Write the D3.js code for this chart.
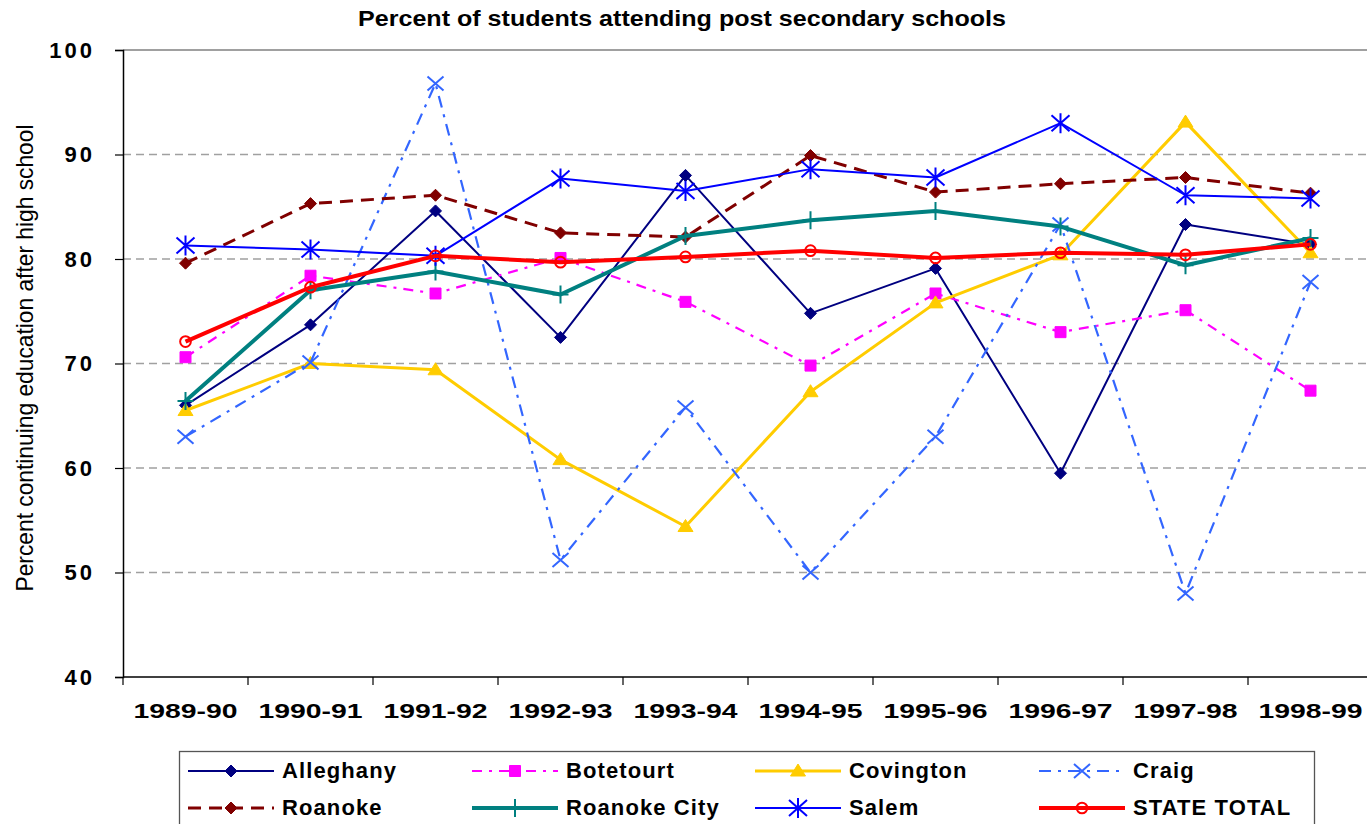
<!DOCTYPE html>
<html>
<head>
<meta charset="utf-8">
<script src="https://cdn.jsdelivr.net/npm/d3@7"></script>
<style>
  html, body { margin: 0; padding: 0; background: #fff; }
  svg { display: block; font-family: "Liberation Sans", Arial, sans-serif; }
</style>
</head>
<body>
<svg id="chart" width="1367" height="824"></svg>
<script>
// school years on the x axis
const years = ["1989-90", "1990-91", "1991-92", "1992-93", "1993-94",
    "1994-95", "1995-96", "1996-97", "1997-98", "1998-99"];
const yTicks = [40, 50, 60, 70, 80, 90, 100];

// values
const alleghany   = [66.0, 73.7, 84.6, 72.5, 88.0, 74.8, 79.1, 59.5, 83.3, 81.4];
const botetourt   = [70.6, 78.4, 76.7, 80.1, 75.9, 69.8, 76.7, 73.0, 75.1, 67.4];
const covington   = [65.5, 70.0, 69.4, 60.8, 54.4, 67.3, 75.8, 80.4, 93.1, 80.6];
const craig       = [63.0, 70.1, 96.8, 51.2, 65.8, 50.0, 63.0, 83.3, 48.0, 77.8];
const roanoke     = [79.6, 85.3, 86.1, 82.5, 82.1, 89.9, 86.4, 87.2, 87.8, 86.3];
const roanokeCity = [66.4, 77.0, 78.8, 76.6, 82.2, 83.7, 84.6, 83.1, 79.4, 82.0];
const salem       = [81.3, 80.9, 80.3, 87.7, 86.5, 88.6, 87.8, 93.0, 86.1, 85.8];
const stateTotal  = [72.1, 77.3, 80.3, 79.7, 80.2, 80.8, 80.1, 80.6, 80.4, 81.4];

const seriesNames = ["Alleghany", "Botetourt", "Covington", "Craig",
    "Roanoke", "Roanoke City", "Salem", "STATE TOTAL"];
const seriesValues = [alleghany, botetourt, covington, craig,
    roanoke, roanokeCity, salem, stateTotal];

// look of each series (same order as names)
const styles = [
    { color: "#000080", width: 2,   dash: null,          marker: "diamond" },
    { color: "#FF00FF", width: 2.2, dash: "10,7,3,7",    marker: "square" },
    { color: "#FFCC00", width: 3,   dash: null,          marker: "triangle" },
    { color: "#3366FF", width: 2.2, dash: "12,7,3,7",    marker: "x" },
    { color: "#800000", width: 3,   dash: "13,8",        marker: "diamond" },
    { color: "#008080", width: 4,   dash: null,          marker: "plus" },
    { color: "#0000FF", width: 2,   dash: null,          marker: "star" },
    { color: "#FF0000", width: 4,   dash: null,          marker: "circle" },
];

const markerPaths = {
    diamond: "M0,-6L6,0L0,6L-6,0Z",
    square: "M-5.5,-5.5H5.5V5.5H-5.5Z",
    triangle: "M0,-7L7.5,5L-7.5,5Z",
    x: "M-8,-7L8,7M-8,7L8,-7",
    plus: "M-8,0H8M0,-9V9",
    star: "M-9,-8L9,8M-9,8L9,-8M0,-10V10",
    circle: d3.symbol().type(d3.symbolCircle).size(90)(),
};
const filledMarker = { diamond: true, square: true, triangle: true };

const svg = d3.select("#chart");

const plot = { left: 123, top: 50, right: 1373, bottom: 677 };

const x = d3.scaleBand().domain(years).range([plot.left, plot.right]).padding(0);
const xc = (d) => x(d) + x.bandwidth() / 2;
const y = d3.scaleLinear().domain([40, 100]).range([plot.bottom, plot.top]);

// gridlines
svg.append("g")
    .selectAll("line")
    .data(yTicks.filter((t) => t > 40))
    .join("line")
    .attr("x1", plot.left)
    .attr("x2", 1367)
    .attr("y1", (d) => y(d))
    .attr("y2", (d) => y(d))
    .attr("stroke", (d) => (d === 100 ? "#808080" : "#a0a0a0"))
    .attr("stroke-width", (d) => (d === 100 ? 1.5 : 1.3))
    .attr("stroke-dasharray", (d) => (d === 100 ? null : "8,5"));

// y axis
const yAxis = svg.append("g")
    .attr("transform", `translate(${plot.left},0)`)
    .call(d3.axisLeft(y).tickValues(yTicks).tickSize(8).tickPadding(20));
yAxis.select(".domain").attr("stroke", "#000").attr("stroke-width", 1.5);
yAxis.selectAll(".tick line").attr("stroke", "#000").attr("stroke-width", 1.2);
yAxis.selectAll(".tick text")
    .attr("font-size", 22)
    .attr("font-weight", "bold")
    .attr("fill", "#000")
    .attr("letter-spacing", 3)
    .attr("font-family", "Liberation Sans, Arial, sans-serif");

// x axis
svg.append("line")
    .attr("x1", plot.left).attr("x2", 1367)
    .attr("y1", plot.bottom).attr("y2", plot.bottom)
    .attr("stroke", "#000").attr("stroke-width", 1.5);
svg.append("g")
    .selectAll("line")
    .data(years)
    .join("line")
    .attr("x1", (d) => x(d))
    .attr("x2", (d) => x(d))
    .attr("y1", plot.bottom)
    .attr("y2", plot.bottom + 8)
    .attr("stroke", "#000")
    .attr("stroke-width", 1.2);
const xAxis = svg.append("g")
    .attr("transform", `translate(0,${plot.bottom})`)
    .call(d3.axisBottom(x).tickSize(0).tickPadding(26));
xAxis.select(".domain").remove();
xAxis.selectAll(".tick text")
    .attr("font-size", 21)
    .attr("font-weight", "bold")
    .attr("fill", "#000")
    .attr("font-family", "Liberation Sans, Arial, sans-serif")
    .attr("textLength", 104)
    .attr("lengthAdjust", "spacingAndGlyphs");

// title and axis title
svg.append("text")
    .attr("x", 682)
    .attr("y", 26)
    .attr("text-anchor", "middle")
    .attr("font-size", 22)
    .attr("font-weight", "bold")
    .attr("textLength", 648)
    .attr("lengthAdjust", "spacingAndGlyphs")
    .text("Percent of students attending post secondary schools");

svg.append("text")
    .attr("transform", "translate(33,358) rotate(-90)")
    .attr("text-anchor", "middle")
    .attr("font-size", 24)
    .attr("textLength", 467)
    .attr("lengthAdjust", "spacingAndGlyphs")
    .text("Percent continuing education after high school");

// series
const line = d3.line().x((d) => xc(d.year)).y((d) => y(d.value));

seriesValues.forEach(function (vals, i) {
    const st = styles[i];
    const pts = vals.map((v, j) => ({ year: years[j], value: v }));
    const g = svg.append("g").attr("class", "series");
    g.append("path")
        .datum(pts)
        .attr("d", line)
        .attr("fill", "none")
        .attr("stroke", st.color)
        .attr("stroke-width", st.width)
        .attr("stroke-dasharray", st.dash)
        .attr("stroke-linejoin", "round");
    g.selectAll("path.marker")
        .data(pts)
        .join("path")
        .attr("class", "marker")
        .attr("transform", (d) => `translate(${xc(d.year)},${y(d.value)})`)
        .attr("d", markerPaths[st.marker])
        .attr("fill", filledMarker[st.marker] ? st.color : "none")
        .attr("stroke", st.color)
        .attr("stroke-width", filledMarker[st.marker] ? 1 : 2);
});

// legend
const legend = svg.append("g");
legend.append("rect")
    .attr("x", 179.5)
    .attr("y", 751.5)
    .attr("width", 1135)
    .attr("height", 90)
    .attr("fill", "#fff")
    .attr("stroke", "#555")
    .attr("stroke-width", 1.3);

const colX = [188, 472, 755, 1039];
const rowY = [771, 808];

seriesNames.forEach(function (name, i) {
    const st = styles[i];
    const lx = colX[i % 4];
    const ly = rowY[Math.floor(i / 4)];
    const item = legend.append("g");
    item.append("line")
        .attr("x1", lx).attr("x2", lx + 86)
        .attr("y1", ly).attr("y2", ly)
        .attr("stroke", st.color)
        .attr("stroke-width", st.width)
        .attr("stroke-dasharray", st.dash);
    item.append("path")
        .attr("transform", `translate(${lx + 43},${ly})`)
        .attr("d", markerPaths[st.marker])
        .attr("fill", filledMarker[st.marker] ? st.color : "none")
        .attr("stroke", st.color)
        .attr("stroke-width", filledMarker[st.marker] ? 1 : 2);
    item.append("text")
        .attr("x", lx + 94)
        .attr("y", ly + 7)
        .attr("font-size", 22)
        .attr("font-weight", "bold")
        .attr("letter-spacing", 1.1)
        .text(name);
});
</script>
</body>
</html>
